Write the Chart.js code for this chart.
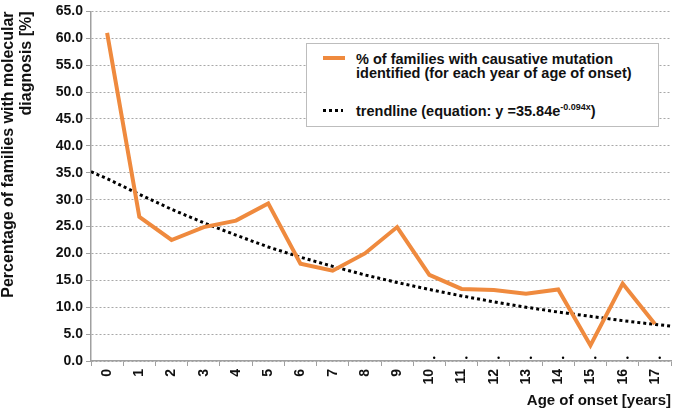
<!DOCTYPE html>
<html lang="en">
<head>
    <meta charset="UTF-8">
    <title>Molecular diagnosis by age of onset</title>
    <script src="https://cdn.jsdelivr.net/npm/chart.js"></script>
    <style>
        body {
            margin: 0;
            padding: 0;
            background: #ffffff;
            font-family: "Liberation Sans", Arial, sans-serif;
        }
        #wrap {
            position: relative;
            width: 675px;
            height: 418px;
        }
        #legendBox {
            position: absolute;
            left: 306px;
            top: 43px;
            width: 351px;
            height: 82px;
            border: 1px solid #bdbdbd;
            background: #ffffff;
            font-weight: bold;
            font-size: 14.5px;
            color: #111;
        }
        .row {
            position: absolute;
            left: 49px;
            line-height: 14px;
            white-space: nowrap;
        }
        .swatch {
            position: absolute;
            left: 16px;
            width: 22px;
        }
        sup {
            font-size: 9px;
            line-height: 0;
        }
    </style>
</head>
<body>
<div id="wrap">
    <canvas id="myChart" width="675" height="418"></canvas>
    <div id="legendBox">
        <div class="swatch" style="top:12px;height:4px;background:#ef8a3e;"></div>
        <div class="row" style="top:8px;">% of families with causative mutation<br>identified (for each year of age of onset)</div>
        <div class="swatch" style="top:65px;height:3px;background:repeating-linear-gradient(90deg,#000 0 3px,transparent 3px 6px);width:20px;"></div>
        <div class="row" style="top:60px;">trendline (equation: y =35.84e<sup>-0.094x</sup>)</div>
    </div>
</div>

<script>
    // ages of onset (years)
    var ages = ['0', '1', '2', '3', '4', '5', '6', '7', '8', '9', '10', '11', '12', '13', '14', '15', '16', '17'];

    // % of families with causative mutation identified
    var pctIdentified = [61.0, 26.8, 22.5, 24.9, 26.1, 29.3, 18.1, 16.8, 20.0, 24.9, 16.0, 13.4, 13.2, 12.5, 13.3, 2.9, 14.4, 6.9];

    // trendline as drawn (from left edge to right edge of the plot)
    var trendX = [-0.5, 0, 1, 2, 3, 4, 5, 6, 7, 8, 9, 10, 11, 12, 13, 14, 15, 16, 17, 17.5];
    var trendY = [35.2, 33.9, 31.0, 28.2, 25.7, 23.4, 21.2, 19.3, 17.6, 16.0, 14.6, 13.3, 12.1, 11.0, 10.0, 9.1, 8.3, 7.5, 6.8, 6.5];

    // small stray markers sitting on the baseline
    var dotX = [10, 11, 12, 13, 14, 15, 16, 17];
    var dotY = [0.6, 0.6, 0.6, 0.6, 0.6, 0.6, 0.6, 0.6];

    var yMin = 0, yMax = 65, yStep = 5;

    var fontFamily = '"Liberation Sans", Arial, sans-serif';

    var trendPoints = trendX.map(function (x, i) { return { x: x, y: trendY[i] }; });
    var dotPoints = dotX.map(function (x, i) { return { x: x + 0.15, y: dotY[i] }; });

    var ctx = document.getElementById('myChart').getContext('2d');
    var myChart = new Chart(ctx, {
        type: 'line',
        data: {
            labels: ages,
            datasets: [{
                label: 'trendline',
                data: trendPoints,
                xAxisID: 'x2',
                borderColor: '#000000',
                borderWidth: 3,
                borderDash: [3, 3],
                pointRadius: 0,
                fill: false,
                tension: 0,
                order: 2
            }, {
                label: '% of families with causative mutation identified',
                data: pctIdentified,
                xAxisID: 'x',
                borderColor: '#ef8a3e',
                borderWidth: 4,
                pointRadius: 0,
                fill: false,
                tension: 0,
                order: 1
            }, {
                label: 'dots',
                data: dotPoints,
                xAxisID: 'x2',
                showLine: false,
                pointRadius: 1.2,
                pointBackgroundColor: '#000',
                pointBorderWidth: 0,
                order: 3
            }]
        },
        options: {
            responsive: false,
            animation: false,
            layout: { padding: { top: 10, right: 1, left: 0, bottom: 0 } },
            plugins: {
                legend: { display: false },
                tooltip: { enabled: false }
            },
            scales: {
                x: {
                    type: 'category',
                    offset: true,
                    afterFit: function (scale) { scale.height = 57; },
                    grid: {
                        display: true,
                        offset: true,
                        drawOnChartArea: false,
                        drawTicks: true,
                        tickLength: 5,
                        color: '#a0a0a0',
                        tickColor: '#a0a0a0'
                    },
                    border: { display: true, color: '#a0a0a0', width: 1.5 },
                    ticks: {
                        minRotation: 90,
                        maxRotation: 90,
                        padding: 3,
                        color: '#111',
                        font: { family: fontFamily, size: 14, weight: 'bold' }
                    },
                    title: {
                        display: true,
                        text: 'Age of onset [years]',
                        align: 'end',
                        color: '#111',
                        padding: { top: 0, bottom: 8 },
                        font: { family: fontFamily, size: 15, weight: 'bold', lineHeight: 1.2 }
                    }
                },
                x2: {
                    type: 'linear',
                    display: false,
                    min: -0.5,
                    max: 17.5
                },
                y: {
                    min: yMin,
                    max: yMax,
                    afterFit: function (scale) { scale.width = 91; },
                    grid: {
                        color: '#a8a8a8',
                        lineWidth: 1,
                        drawTicks: true,
                        tickLength: 5,
                        tickColor: '#a0a0a0',
                        tickBorderDash: []
                    },
                    border: { display: true, color: '#a0a0a0', width: 1.5, dash: [2, 2] },
                    ticks: {
                        stepSize: yStep,
                        padding: 3,
                        color: '#111',
                        font: { family: fontFamily, size: 14, weight: 'bold' },
                        callback: function (v) { return v.toFixed(1); }
                    },
                    title: {
                        display: true,
                        text: ['Percentage of families with molecular', 'diagnosis [%]'],
                        align: 'end',
                        color: '#111',
                        padding: { top: 0, bottom: 0 },
                        font: { family: fontFamily, size: 16, weight: 'bold', lineHeight: 1.1 }
                    }
                }
            }
        }
    });
</script>
</body>
</html>
